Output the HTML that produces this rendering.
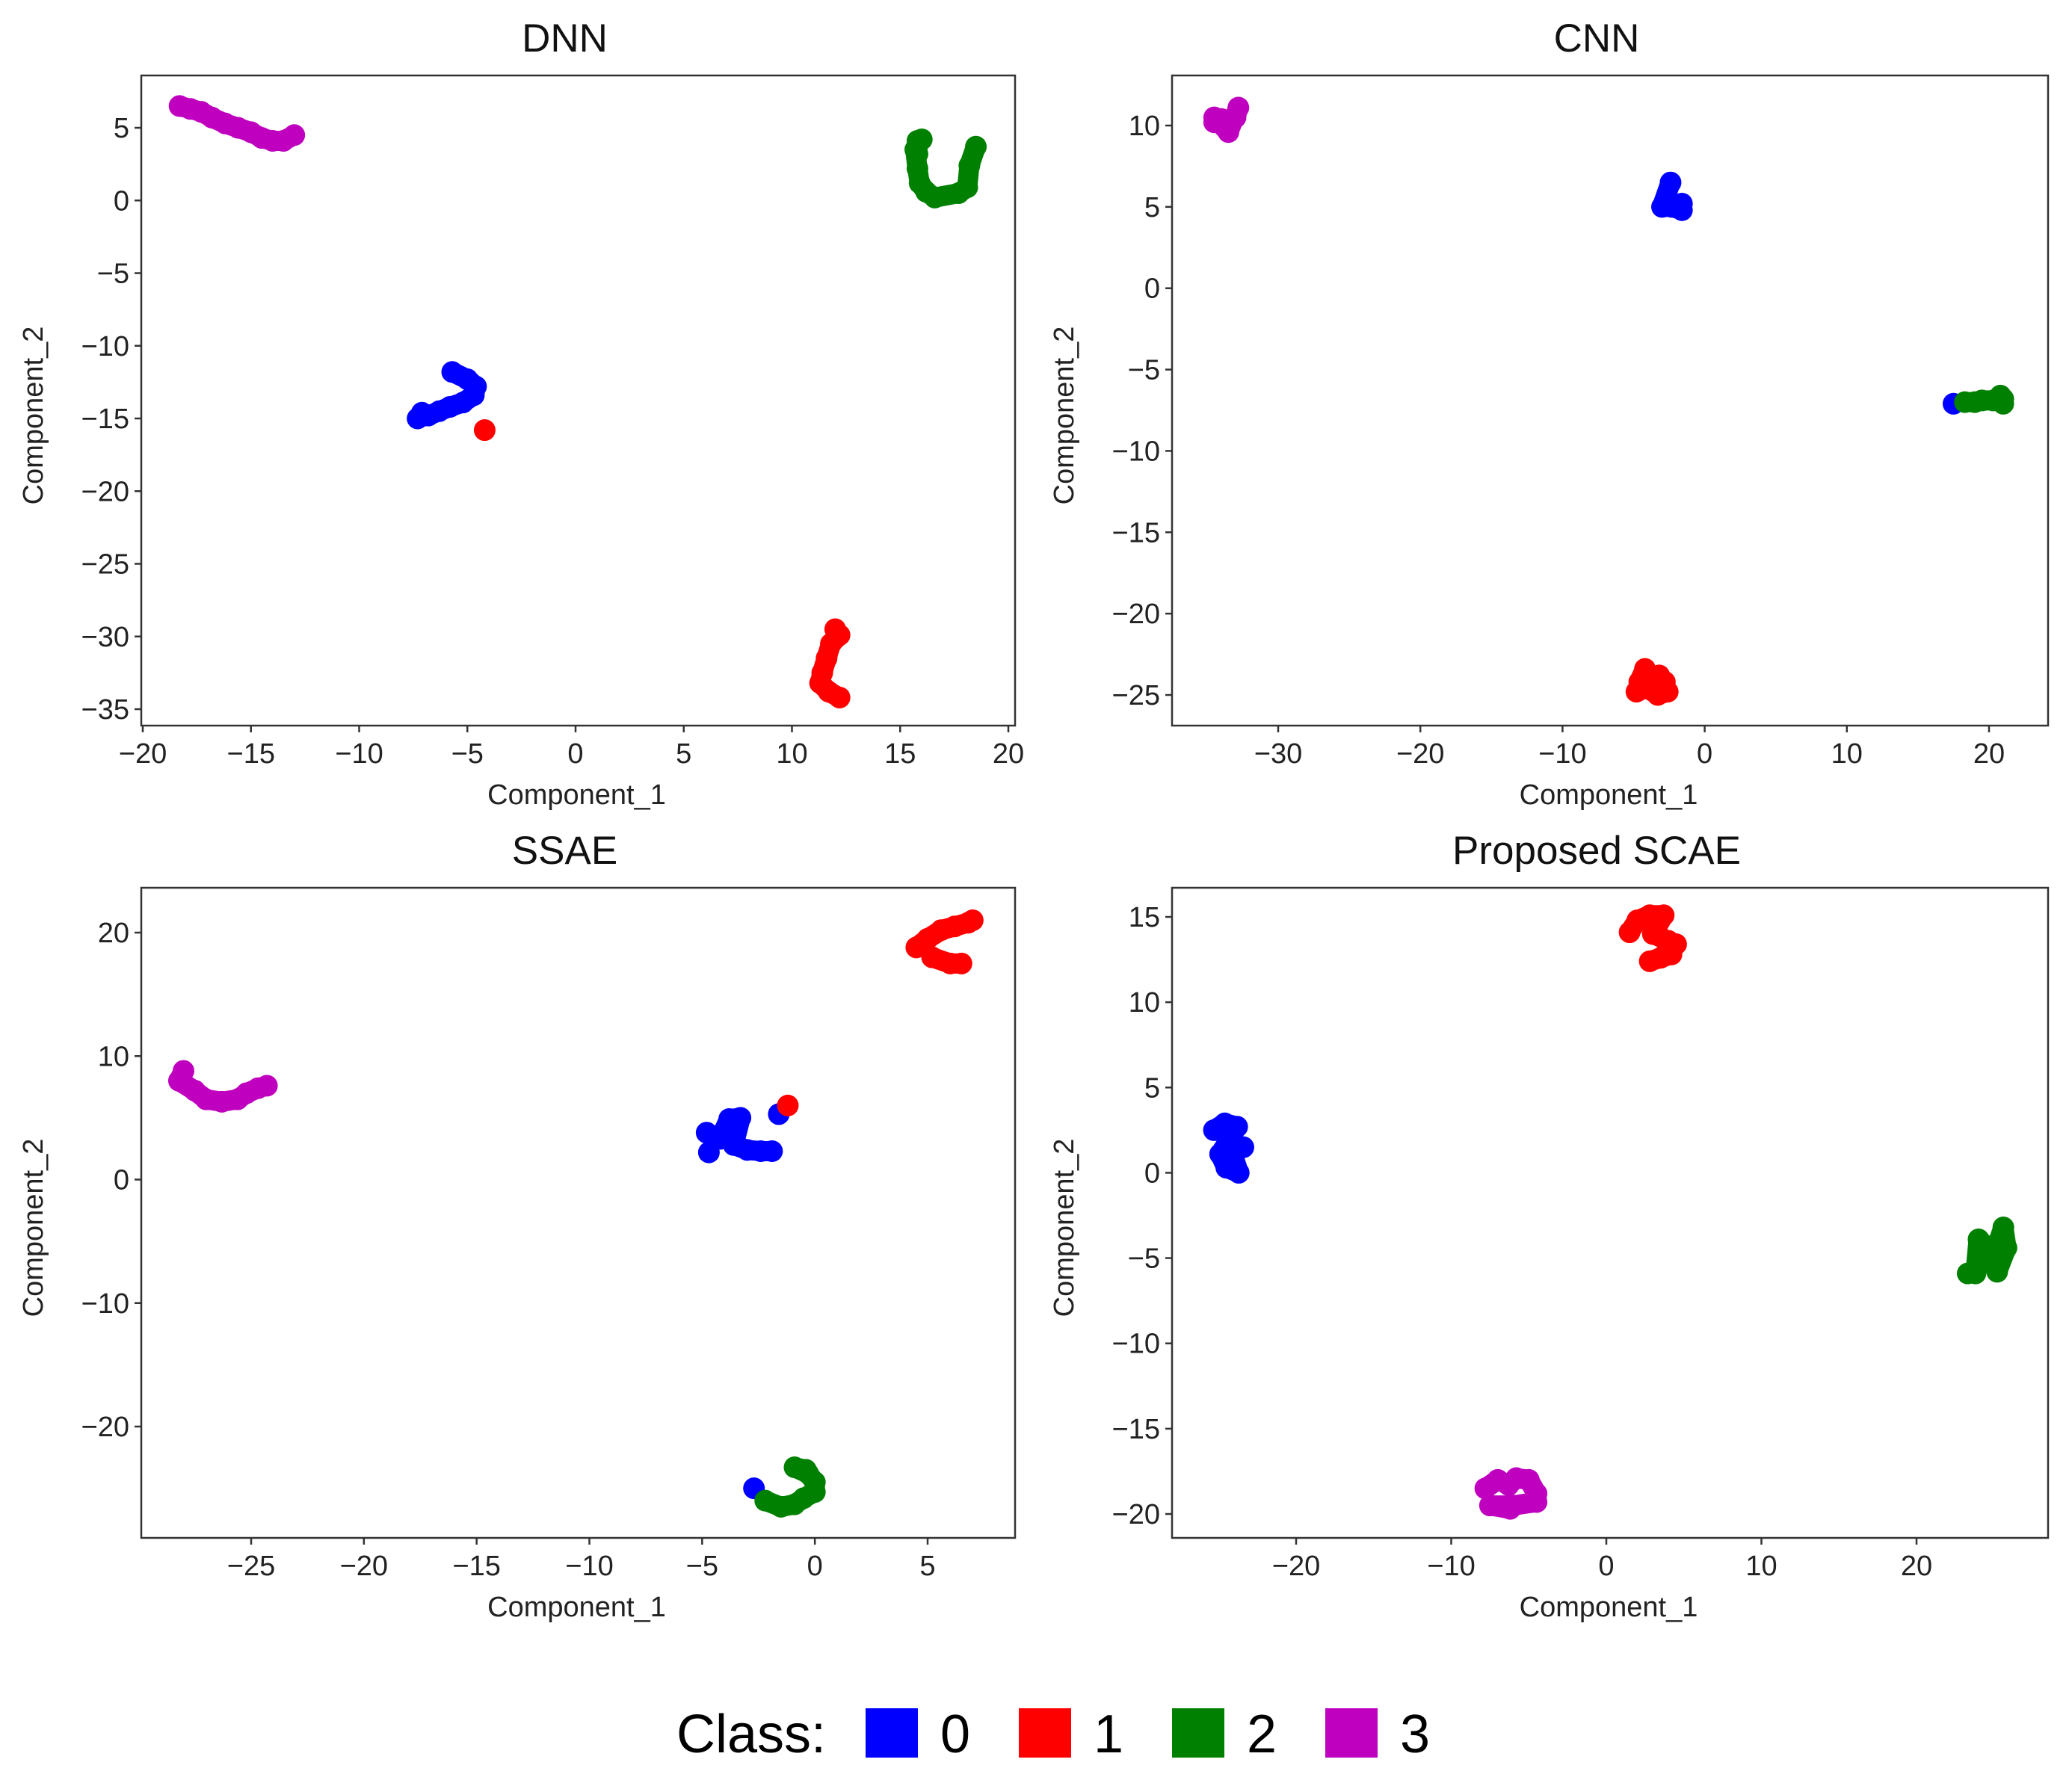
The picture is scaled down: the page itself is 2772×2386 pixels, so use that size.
<!DOCTYPE html>
<html><head><meta charset="utf-8"><style>
html,body{margin:0;padding:0;background:#fff;}
svg{display:block;font-family:"Liberation Sans",sans-serif;}
</style></head><body>
<svg id="fig" width="2772" height="2386" viewBox="0 0 2772 2386" xmlns="http://www.w3.org/2000/svg">
<g id="legend">
<text x="905" y="2345" font-size="72" font-family="'Liberation Sans Narrow','Liberation Sans',sans-serif">Class:</text>
<rect x="1158" y="2286" width="70" height="66" fill="#0000ff"/>
<text x="1258" y="2345" font-size="72" font-family="'Liberation Sans Narrow','Liberation Sans',sans-serif">0</text>
<rect x="1363" y="2286" width="70" height="66" fill="#ff0000"/>
<text x="1463" y="2345" font-size="72" font-family="'Liberation Sans Narrow','Liberation Sans',sans-serif">1</text>
<rect x="1568" y="2286" width="70" height="66" fill="#008000"/>
<text x="1668" y="2345" font-size="72" font-family="'Liberation Sans Narrow','Liberation Sans',sans-serif">2</text>
<rect x="1773" y="2286" width="70" height="66" fill="#bf00bf"/>
<text x="1873" y="2345" font-size="72" font-family="'Liberation Sans Narrow','Liberation Sans',sans-serif">3</text>
</g>
</svg>
<script>
const COLORS = ['#0000ff','#ff0000','#008000','#bf00bf'];
// DNN data
const dnnClass0 = [[-7.3,-15],[-7,-14.8],[-6.8,-14.8],[-6.3,-14.5],[-5.8,-14.2],[-5.2,-13.9],[-4.7,-13.4],[-4.6,-12.8],[-5,-12.3],[-5.7,-11.8],[-7.1,-14.6]];
const dnnClass1 = [[-4.2,-15.8],[12,-29.5],[12.2,-29.9],[11.8,-30.5],[11.6,-31.5],[11.4,-32.5],[11.3,-33.2],[11.7,-33.8],[12.2,-34.2]];
const dnnClass2 = [[15.8,4.1],[15.8,3.2],[15.7,3.5],[15.8,2.2],[15.9,1.2],[16.2,0.6],[16.6,0.2],[17.7,0.5],[18.1,0.9],[18.2,2.4],[18.5,3.7],[16,4.2]];
const dnnClass3 = [[-18.3,6.5],[-17.8,6.3],[-17.3,6.1],[-16.8,5.7],[-16.2,5.3],[-15.6,5.0],[-15,4.7],[-14.5,4.3],[-14,4.1],[-13.5,4.1],[-13,4.5]];
// CNN data
const cnnClass0 = [[-2.4,6.5],[-3,5],[-2.3,5],[-1.6,4.8],[-1.6,5.2],[17.5,-7.1]];
const cnnClass1 = [[-4.6,-24.2],[-4.2,-23.4],[-4,-24.6],[-3.3,-25],[-2.6,-24.8],[-3.2,-23.8],[-2.8,-24.2],[-4.8,-24.8]];
const cnnClass2 = [[18.3,-7],[19,-7],[19.5,-6.9],[20.3,-6.9],[21,-6.8],[21,-7.1],[20.8,-6.6]];
const cnnClass3 = [[-34.5,10.2],[-34,10.4],[-33.5,10],[-33,10.5],[-32.8,11.1],[-33.5,9.6],[-34.5,10.5]];
// SSAE data
const ssaeClass0 = [[-4.8,3.8],[-4.2,3.3],[-3.8,4.9],[-3.3,5],[-3.6,2.8],[-3,2.4],[-2.4,2.3],[-1.9,2.3],[-4.7,2.2],[-1.6,5.3],[-2.7,-25]];
const ssaeClass1 = [[-1.2,6],[4.5,18.8],[5,19.5],[5.6,20.2],[6.2,20.5],[6.8,20.8],[7,21],[5.2,18],[6,17.5],[6.5,17.5]];
const ssaeClass2 = [[-2.2,-26],[-1.5,-26.5],[-0.9,-26.3],[-0.5,-25.8],[0,-25.3],[0,-24.5],[-0.3,-23.8],[-0.9,-23.3],[-0.4,-23.5]];
const ssaeClass3 = [[-28,8.8],[-28.2,8],[-27.5,7.2],[-27,6.5],[-26.3,6.3],[-25.6,6.5],[-25.2,7],[-24.7,7.4],[-24.3,7.6]];
// SCAE data
const scaeClass0 = [[-25.3,2.5],[-24.6,2.9],[-23.8,2.7],[-24.9,1.1],[-24.5,0.3],[-23.7,0],[-24.2,1.4],[-23.4,1.5]];
const scaeClass1 = [[1.5,14.1],[2,14.8],[2.8,15.1],[3.7,15.1],[3,14],[4,13.6],[4.5,13.4],[3.5,12.6],[2.8,12.4],[4.2,12.8]];
const scaeClass2 = [[23.3,-5.9],[23.8,-5.9],[24,-3.9],[24.5,-4.3],[25,-4.8],[25.6,-3.2],[25.8,-4.4],[25.2,-5.8],[24.6,-4.9]];
const scaeClass3 = [[-7.8,-18.5],[-7,-18],[-6.3,-18.3],[-5.8,-17.9],[-5,-18],[-4.5,-18.8],[-4.5,-19.3],[-6,-19.5],[-7.5,-19.5],[-6.2,-19.7]];
// ticks
const dnnXTicks = [-20,-15,-10,-5,0,5,10,15,20];
const dnnYTicks = [5,0,-5,-10,-15,-20,-25,-30,-35];
const cnnXTicks = [-30,-20,-10,0,10,20];
const cnnYTicks = [10,5,0,-5,-10,-15,-20,-25];
const ssaeXTicks = [-25,-20,-15,-10,-5,0,5];
const ssaeYTicks = [20,10,0,-10,-20];
const scaeXTicks = [-20,-10,0,10,20];
const scaeYTicks = [15,10,5,0,-5,-10,-15,-20];

const NS='http://www.w3.org/2000/svg';
const svg=document.getElementById('fig');
function mk(tag,attrs,parent){const e=document.createElementNS(NS,tag);for(const k in attrs)e.setAttribute(k,attrs[k]);parent.appendChild(e);return e;}
function fmt(v){return v<0?'\u2212'+(-v):String(v);}

const panels=[
 {key:'dnn',title:'DNN',box:[189,101,1358,971],xa:[-20,191,20,1349],ya:[5,171,-35,949],xt:dnnXTicks,yt:dnnYTicks,cls:[dnnClass0,dnnClass1,dnnClass2,dnnClass3]},
 {key:'cnn',title:'CNN',box:[1568,101,2740,971],xa:[-30,1710,20,2661],ya:[10,168,-25,930],xt:cnnXTicks,yt:cnnYTicks,cls:[cnnClass0,cnnClass1,cnnClass2,cnnClass3]},
 {key:'ssae',title:'SSAE',box:[189,1188,1358,2058],xa:[-25,336,5,1241],ya:[20,1248,-20,1909],xt:ssaeXTicks,yt:ssaeYTicks,cls:[ssaeClass0,ssaeClass1,ssaeClass2,ssaeClass3]},
 {key:'scae',title:'Proposed SCAE',box:[1568,1188,2740,2058],xa:[-20,1734,20,2564],ya:[15,1227,-20,2026],xt:scaeXTicks,yt:scaeYTicks,cls:[scaeClass0,scaeClass1,scaeClass2,scaeClass3]}
];
panels.forEach(p=>{
 const g=mk('g',{},svg);
 
 
 const [x0,y0,x1,y1]=p.box;
 const sx=v=>p.xa[1]+(v-p.xa[0])*(p.xa[3]-p.xa[1])/(p.xa[2]-p.xa[0]);
 const sy=v=>p.ya[1]+(v-p.ya[0])*(p.ya[3]-p.ya[1])/(p.ya[2]-p.ya[0]);
 const t=mk('text',{x:(x0+x1)/2-18,y:y0-32,'font-size':53,'text-anchor':'middle',fill:'#111'},g);
 t.textContent=p.title;
 
 
 p.cls.forEach((pts,ci)=>{
  const cg=mk('g',{fill:COLORS[ci]},g);
  
  
  pts.forEach(pt=>{
   const c=mk('circle',{cx:sx(pt[0]),cy:sy(pt[1]),r:14.5},cg);
   
   
  });
  for(let i=1;i<pts.length;i++){
   const a=pts[i-1],b=pts[i];
   if(Math.hypot(sx(a[0])-sx(b[0]),sy(a[1])-sy(b[1]))<48){
    const l=mk('line',{x1:sx(a[0]),y1:sy(a[1]),x2:sx(b[0]),y2:sy(b[1]),stroke:COLORS[ci],'stroke-width':27,'stroke-linecap':'round'},cg);
    
    
   }
  }
 });
 const fr=mk('rect',{x:x0,y:y0,width:x1-x0,height:y1-y0,fill:'none',stroke:'#333',"stroke-width":2.5},g);
 
 
 p.xt.forEach(v=>{
  const x=sx(v);
  const tk=mk('line',{x1:x,y1:y1,x2:x,y2:y1+9,stroke:'#333','stroke-width':2.5},g);
  
  
  const lb=mk('text',{x:x,y:y1+50,'font-size':38,'text-anchor':'middle',fill:'#222'},g);
  lb.textContent=fmt(v);
  
  
 });
 p.yt.forEach(v=>{
  const y=sy(v);
  const tk=mk('line',{x1:x0-9,y1:y,x2:x0,y2:y,stroke:'#333','stroke-width':2.5},g);
  
  
  const lb=mk('text',{x:x0-16,y:y+13,'font-size':38,'text-anchor':'end',fill:'#222'},g);
  lb.textContent=fmt(v);
  
  
 });
 const xl=mk('text',{x:(x0+x1)/2-2,y:y1+105,'font-size':38,'text-anchor':'middle',fill:'#222'},g);
 xl.textContent='Component_1';
 
 
 const yc=(y0+y1)/2+20, xc=x0-132;
 const yl=mk('text',{x:xc,y:yc,'font-size':38,'text-anchor':'middle',fill:'#222',transform:'rotate(-90 '+xc+' '+yc+')'},g);
 yl.textContent='Component_2';
 
 
});
</script>
</body></html>
